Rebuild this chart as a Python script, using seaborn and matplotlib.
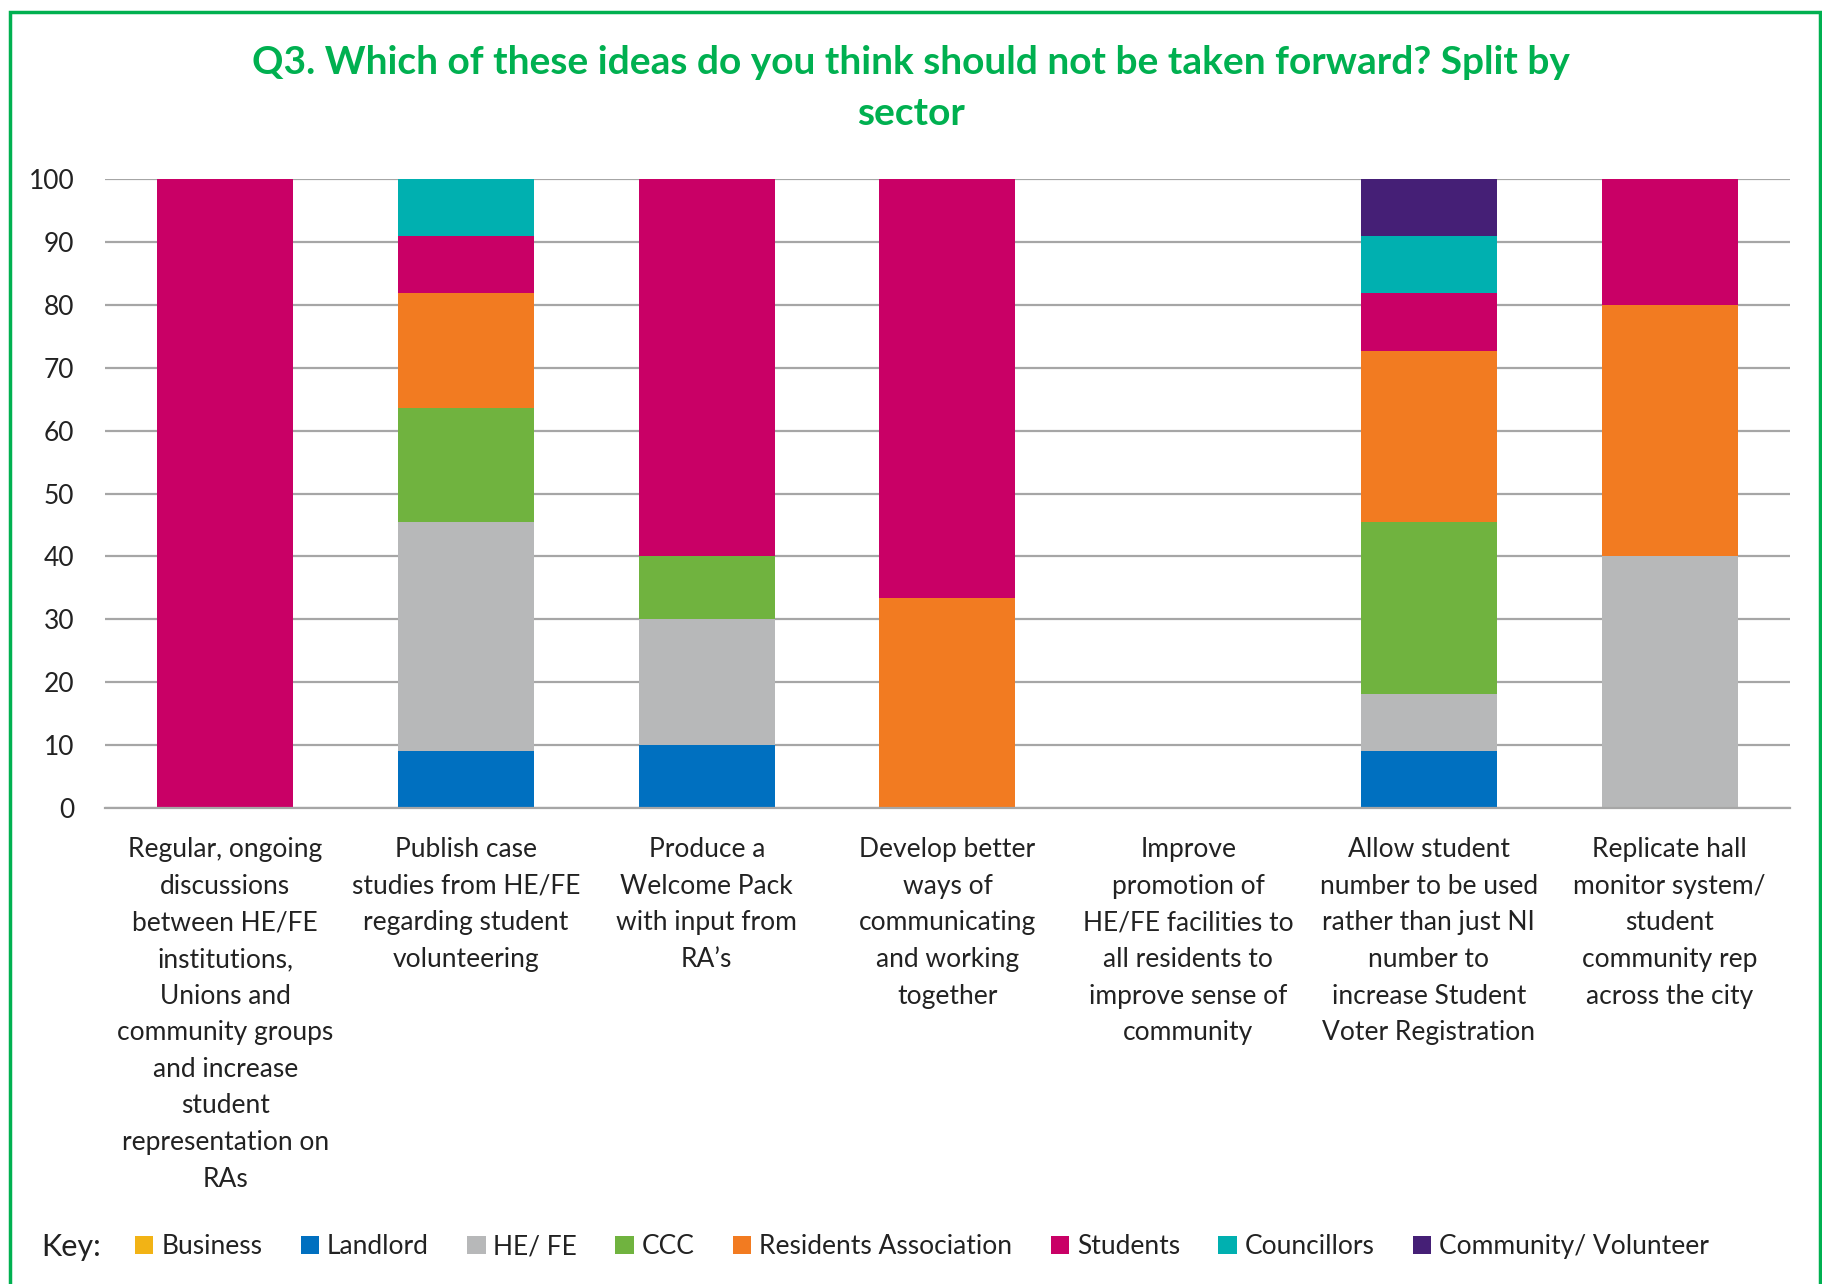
import pandas as pd
import seaborn as sns
import matplotlib.pyplot as plt
from matplotlib.patches import Patch, Rectangle

ideas = [
    "Regular, ongoing\ndiscussions\nbetween HE/FE\ninstitutions,\nUnions and\ncommunity groups\nand increase\nstudent\nrepresentation on\nRAs",
    "Publish case\nstudies from HE/FE\nregarding student\nvolunteering",
    "Produce a\nWelcome Pack\nwith input from\nRA\u2019s",
    "Develop better\nways of\ncommunicating\nand working\ntogether",
    "Improve\npromotion of\nHE/FE facilities to\nall residents to\nimprove sense of\ncommunity",
    "Allow student\nnumber to be used\nrather than just NI\nnumber to\nincrease Student\nVoter Registration",
    "Replicate hall\nmonitor system/\nstudent\ncommunity rep\nacross the city",
]
sectors = ['Business', 'Landlord', 'HE/ FE', 'CCC', 'Residents Association',
           'Students', 'Councillors', 'Community/ Volunteer']
colors = ['#F2B315', '#0070C0', '#B7B8B9', '#70B33F', '#F27B21',
          '#C90066', '#00B0B0', '#451F76']

# percentages per idea, one list per sector
business    = [0, 0,     0,  0,    0, 0,     0]
landlord    = [0, 9.09,  10, 0,    0, 9.09,  0]
he_fe       = [0, 36.36, 20, 0,    0, 9.09,  40]
ccc         = [0, 18.18, 10, 0,    0, 27.27, 0]
residents   = [0, 18.18, 0,  33.33, 0, 27.27, 40]
students    = [100, 9.09, 60, 66.67, 0, 9.09, 20]
councillors = [0, 9.09,  0,  0,    0, 9.09,  0]
community   = [0, 0,     0,  0,    0, 9.09,  0]

df = pd.DataFrame({'idea': ideas, 'Business': business, 'Landlord': landlord,
                   'HE/ FE': he_fe, 'CCC': ccc, 'Residents Association': residents,
                   'Students': students, 'Councillors': councillors,
                   'Community/ Volunteer': community})
cum = df[sectors].cumsum(axis=1)
cum['idea'] = df['idea']

sns.set_style('white')
plt.rcParams['font.family'] = ['Lato', 'DejaVu Sans']

fig = plt.figure(figsize=(18.22, 12.84), dpi=100)
ax = fig.add_axes([0.0576, 0.3707, 0.9248, 0.4899])

# stacked bars: draw cumulative totals from the top sector down
for s, c in reversed(list(zip(sectors, colors))):
    sns.barplot(x='idea', y=s, data=cum, color=c, width=0.565, ax=ax,
                saturation=1, order=ideas, linewidth=0)

ax.set(xlim=(-0.5, 6.5), ylim=(0, 100), xlabel='', ylabel='')
ax.set_yticks(range(0, 101, 10))
ax.yaxis.grid(True, color='#A6A6A6', linewidth=1.6)
ax.set_axisbelow(True)
sns.despine(ax=ax, left=True, top=True, right=True)
ax.spines['bottom'].set_color('#A6A6A6')
ax.spines['bottom'].set_linewidth(1.6)
ax.tick_params(axis='y', length=0, labelsize=19, pad=22, colors='#222222')
ax.tick_params(axis='x', length=0, labelsize=19, pad=21, colors='#222222')
for t in ax.get_xticklabels():
    t.set_linespacing(1.58)
    t.set_va('top')

fig.suptitle('Q3. Which of these ideas do you think should not be taken forward? Split by\nsector',
             x=0.5, y=0.965, va='top', fontsize=28, fontweight='bold', color='#00B050',
             linespacing=1.55)

handles = [Patch(facecolor=c, edgecolor='none') for c in colors]
fig.text(0.0225, 0.029, 'Key:', fontsize=22, va='center', ha='left', color='#222222')
fig.legend(handles, sectors, loc='center left', bbox_to_anchor=(0.061, 0.029),
           ncol=8, frameon=False, fontsize=19, handlelength=0.7, handleheight=0.7,
           handletextpad=0.3, columnspacing=1.45, labelcolor='#222222')

fig.patches.append(Rectangle((10 / 1822, -0.1), 1810 / 1822, 1.1 - 12 / 1284,
                             transform=fig.transFigure, fill=False,
                             edgecolor='#00B050', linewidth=2.5))

plt.savefig('out.png', dpi=100)
